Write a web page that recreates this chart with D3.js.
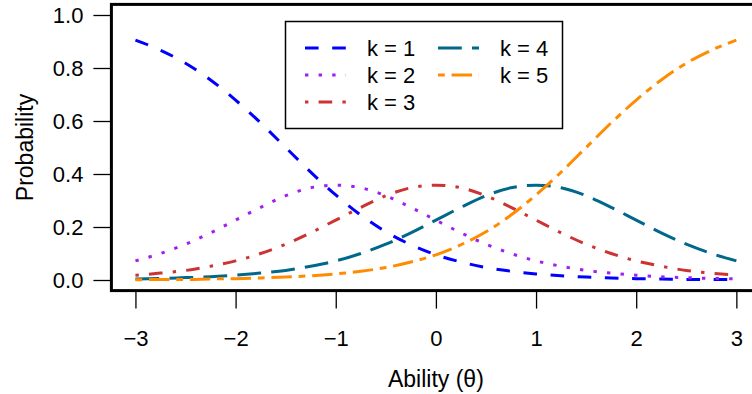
<!DOCTYPE html>
<meta charset="utf-8">
<html>
  <head>
    <style>
      body { margin: 0; background: #fff; }
      svg text { font-family: "Liberation Sans", Arial, sans-serif; fill: #000; }
    </style>
  </head>
  <body>
    <div id="chart"></div>
  </body>

<script src="https://d3js.org/d3.v7.min.js"></script>
<script>
// category response curves at steps of 0.25
var theta = [-3, -2.75, -2.5, -2.25, -2, -1.75, -1.5, -1.25, -1, -0.75, -0.5, -0.25, 0,
             0.25, 0.5, 0.75, 1, 1.25, 1.5, 1.75, 2, 2.25, 2.5, 2.75, 3]
var k1 = [0.905, 0.867, 0.818, 0.755, 0.679, 0.593, 0.500, 0.407, 0.321, 0.245, 0.182, 0.133, 0.095,
          0.068, 0.047, 0.033, 0.023, 0.016, 0.011, 0.008, 0.005, 0.004, 0.002, 0.002, 0.001]
var k2 = [0.072, 0.100, 0.135, 0.178, 0.226, 0.274, 0.318, 0.348, 0.358, 0.348, 0.318, 0.274, 0.226,
          0.178, 0.135, 0.100, 0.072, 0.052, 0.036, 0.026, 0.018, 0.012, 0.009, 0.006, 0.004]
var k3 = [0.018, 0.026, 0.036, 0.052, 0.072, 0.100, 0.135, 0.178, 0.226, 0.274, 0.318, 0.348, 0.358,
          0.348, 0.318, 0.274, 0.226, 0.178, 0.135, 0.100, 0.072, 0.052, 0.036, 0.026, 0.018]
var k4 = [0.004, 0.006, 0.009, 0.012, 0.018, 0.026, 0.036, 0.052, 0.072, 0.100, 0.135, 0.178, 0.226,
          0.274, 0.318, 0.348, 0.358, 0.348, 0.318, 0.274, 0.226, 0.178, 0.135, 0.100, 0.072]
var k5 = [0.001, 0.002, 0.002, 0.004, 0.005, 0.008, 0.011, 0.016, 0.023, 0.033, 0.047, 0.068, 0.095,
          0.133, 0.182, 0.245, 0.321, 0.407, 0.500, 0.593, 0.679, 0.755, 0.818, 0.867, 0.905]

var seriesNames = ["k = 1", "k = 2", "k = 3", "k = 4", "k = 5"]
var xTicks = [-3, -2, -1, 0, 1, 2, 3]
var yTicks = [0, 0.2, 0.4, 0.6, 0.8, 1.0]

// R style line types: dashed, dotted, dotdash, longdash, twodash
var u = 3.4
var colors = ["#0000FF", "#A020F0", "#CD3333", "#00688B", "#FF8C00"]
var dashes = [[4, 4], [1, 3], [1, 3, 4, 3], [7, 3], [2, 2, 6, 2]].map(function(d) {
  return d.map(function(v) { return v * u; }).join(",")
})

var series = [k1, k2, k3, k4, k5].map(function(vals, i) {
  return { name: seriesNames[i], values: vals.map(function(v, j) { return { t: theta[j], p: v }; }) }
})

var W = 752, H = 394
var plot = { left: 111.4, right: 760.4, top: 4.4, bottom: 290.6 }

var svg = d3.select("#chart").append("svg")
  .attr("width", W)
  .attr("height", H)

var x = d3.scaleLinear().domain([-3.24, 3.24]).range([plot.left, plot.right])
var y = d3.scaleLinear().domain([-0.04, 1.04]).range([plot.bottom, plot.top])

// axes
var yAxis = svg.append("g")
  .attr("transform", "translate(" + plot.left + ",0)")
  .call(d3.axisLeft(y).tickValues(yTicks).tickSize(18).tickPadding(10).tickFormat(d3.format(".1f")))
var xAxis = svg.append("g")
  .attr("transform", "translate(0," + plot.bottom + ")")
  .call(d3.axisBottom(x).tickValues(xTicks).tickSize(18).tickPadding(22).tickFormat(d3.format("d")))

svg.selectAll(".domain").remove()
svg.selectAll(".tick line").attr("stroke", "#000").attr("stroke-width", 1.3)
svg.selectAll(".tick text").attr("font-size", 22).attr("font-family", null)

// curves
var line = d3.line()
  .x(function(d) { return x(d.t); })
  .y(function(d) { return y(d.p); })
  .curve(d3.curveMonotoneX)

svg.append("g").selectAll("path")
  .data(series)
  .enter()
  .append("path")
    .attr("d", function(d) { return line(d.values); })
    .attr("fill", "none")
    .attr("stroke", function(d, i) { return colors[i]; })
    .attr("stroke-width", 3)
    .attr("stroke-linecap", "butt")
    .attr("stroke-dasharray", function(d, i) { return dashes[i]; })

// plot box
svg.append("rect")
  .attr("x", plot.left)
  .attr("y", plot.top)
  .attr("width", plot.right - plot.left)
  .attr("height", plot.bottom - plot.top)
  .attr("fill", "none")
  .attr("stroke", "#000")
  .attr("stroke-width", 3)

// axis titles
svg.append("text")
  .attr("x", (plot.left + plot.right) / 2)
  .attr("y", 387)
  .attr("text-anchor", "middle")
  .attr("font-size", 23)
  .text("Ability (θ)")
svg.append("text")
  .attr("transform", "translate(33," + (plot.top + plot.bottom) / 2 + ") rotate(-90)")
  .attr("text-anchor", "middle")
  .attr("font-size", 23)
  .text("Probability")

// legend
var legend = svg.append("g")
legend.append("rect")
  .attr("x", 285.5)
  .attr("y", 21.5)
  .attr("width", 277)
  .attr("height", 107)
  .attr("fill", "#fff")
  .attr("stroke", "#000")
  .attr("stroke-width", 1.5)

var slots = [[305, 48], [305, 75], [305, 102], [438, 48], [438, 75]]
var items = legend.selectAll(".item")
  .data(series)
  .enter()
  .append("g")
    .attr("class", "item")
    .attr("transform", function(d, i) { return "translate(" + slots[i][0] + "," + slots[i][1] + ")"; })

items.append("line")
  .attr("x1", 0).attr("x2", 41)
  .attr("y1", 0).attr("y2", 0)
  .attr("stroke", function(d, i) { return colors[i]; })
  .attr("stroke-width", 3)
  .attr("stroke-dasharray", function(d, i) { return dashes[i]; })

items.append("text")
  .attr("x", 62)
  .attr("y", 8)
  .attr("font-size", 22)
  .text(function(d) { return d.name; })
</script>
</html>
